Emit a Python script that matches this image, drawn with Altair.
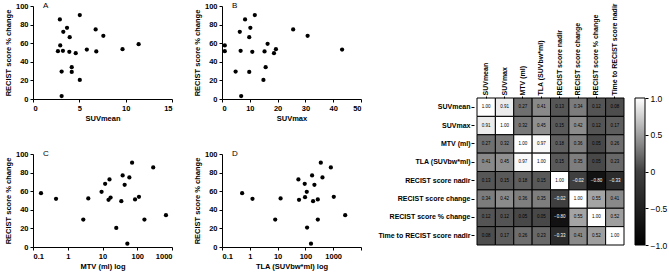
import altair as alt
import pandas as pd

FONT = "Liberation Sans"

# ---- Panel A: SUVmean vs RECIST % change
suv_mean = [2.9, 5.05, 3.67, 3.27, 6.76, 3.96, 7.59, 2.94, 2.69, 3.23, 3.92,
            4.61, 5.81, 6.83, 9.66, 11.4, 3.09, 4.18, 4.18, 5.05, 3.09]
pct_a = [85.6, 90.3, 76.6, 72.3, 74.8, 66.5, 68.0, 57.6, 51.4, 51.8, 50.7,
         49.3, 53.2, 51.1, 53.6, 59.0, 29.5, 34.2, 29.1, 20.5, 3.2]

# ---- Panel B: SUVmax
suv_max = [11.8, 8.3, 10.2, 25.6, 6.4, 30.8, 9.8, 16.4, 1.0, 1.0, 6.7,
           10.9, 15.3, 19.4, 18.7, 43.2, 4.9, 15.7, 9.8, 14.9, 6.9]
pct_b = [90.3, 85.6, 76.6, 74.8, 72.3, 68.0, 66.5, 59.4, 57.6, 51.4, 51.8,
         50.7, 51.1, 53.6, 49.3, 53.2, 29.5, 34.2, 29.1, 20.5, 3.2]

# ---- Panel C: MTV (ml)
mtv = [0.17, 0.46, 3.9, 2.8, 9.4, 11.9, 15.9, 14.9, 17.1, 34.8, 38.0,
       43.4, 59.3, 71.0, 24.9, 51.9, 86.5, 112.0, 161.0, 288.0, 670.0]
pct_c = [57.9, 51.8, 52.2, 29.5, 59.4, 68.0, 72.7, 50.7, 53.2, 49.3, 77.0,
         66.9, 74.8, 90.6, 20.5, 3.6, 51.1, 54.0, 29.5, 85.6, 34.2]

# ---- Panel D: TLA (SUVbw*ml)
tla = [0.53, 1.25, 12.8, 8.2, 56.0, 94.6, 112.0, 97.0, 59.0, 174.0, 211.0,
       189.0, 358.0, 411.0, 824.0, 279.0, 1050.0, 280.0, 115.0, 159.0, 2700.0]
pct_d = [57.9, 51.8, 52.2, 29.5, 72.7, 68.0, 59.4, 53.6, 50.7, 77.0, 66.9,
         49.3, 90.6, 74.8, 85.6, 51.1, 54.0, 29.5, 20.9, 3.6, 34.2]

# ---- Correlation matrix
variables = ["SUVmean", "SUVmax", "MTV (ml)", "TLA (SUVbw*ml)",
             "RECIST score nadir", "RECIST score change",
             "RECIST score % change", "Time to RECIST score nadir"]
corr = [
    [1.00, 0.91, 0.27, 0.41, 0.13, 0.34, 0.12, 0.08],
    [0.91, 1.00, 0.32, 0.45, 0.15, 0.42, 0.12, 0.17],
    [0.27, 0.32, 1.00, 0.97, 0.18, 0.36, 0.05, 0.26],
    [0.41, 0.45, 0.97, 1.00, 0.15, 0.35, 0.05, 0.23],
    [0.13, 0.15, 0.18, 0.15, 1.00, -0.02, -0.80, -0.33],
    [0.34, 0.42, 0.36, 0.35, -0.02, 1.00, 0.55, 0.41],
    [0.12, 0.12, 0.05, 0.05, -0.80, 0.55, 1.00, 0.52],
    [0.08, 0.17, 0.26, 0.23, -0.33, 0.41, 0.52, 1.00],
]
colorbar_ticks = [-1.0, -0.5, 0.0, 0.5, 1.0]

gray_domain = [-1.0, 0.0, 1.0]
gray_range = ["#000000", "#404040", "#ffffff"]

y_ticks = [0, 20, 40, 60, 80, 100]

NUM_EXPR = ("datum.value > 0 && datum.value < 1 ? format(datum.value, '.1f') "
            ": format(datum.value, 'd')")


def scatter(xs, ys, xtitle, letter, xscale, xvalues, w, h):
    df = pd.DataFrame({"x": xs, "y": ys})
    pts = alt.Chart(df).mark_circle(color="black", opacity=1, size=18).encode(
        x=alt.X("x:Q", scale=xscale,
                axis=alt.Axis(values=xvalues, title=xtitle, labelExpr=NUM_EXPR)),
        y=alt.Y("y:Q", scale=alt.Scale(domain=[0, 100], nice=False),
                axis=alt.Axis(values=y_ticks, title="RECIST score % change",
                              labelExpr=NUM_EXPR)),
    )
    lab = alt.Chart(pd.DataFrame({"t": [letter]})).mark_text(
        font=FONT, fontSize=8, align="left", baseline="middle", color="black"
    ).encode(text="t:N", x=alt.value(10), y=alt.value(0))
    return alt.layer(pts, lab).properties(width=w, height=h)


A = scatter(suv_mean, pct_a, "SUVmean", "A",
            alt.Scale(domain=[0, 15], nice=False), [0, 5, 10, 15], 139, 93)
B = scatter(suv_max, pct_b, "SUVmax", "B",
            alt.Scale(domain=[0, 50], nice=False), [0, 10, 20, 30, 40, 50], 139, 93)
C = scatter(mtv, pct_c, "MTV (ml) log", "C",
            alt.Scale(type="log", domain=[0.1, 1000], nice=False),
            [0.1, 1, 10, 100, 1000], 139, 93)
D = scatter(tla, pct_d, "TLA (SUVbw*ml) log", "D",
            alt.Scale(type="log", domain=[0.1, 10000], nice=False),
            [0.1, 1, 10, 100, 1000, 10000], 139, 93)

rows = []
for i, r in enumerate(variables):
    for j, c in enumerate(variables):
        rows.append({"row": r, "col": c, "value": corr[i][j]})
hm_df = pd.DataFrame(rows)

hm_base = alt.Chart(hm_df).encode(
    x=alt.X("col:N", sort=variables,
            scale=alt.Scale(paddingInner=0, paddingOuter=0),
            axis=alt.Axis(orient="top", labelAngle=270, title=None, domain=False,
                          tickSize=2, labelPadding=1, labelFontSize=7,
                          labelFontWeight="bold")),
    y=alt.Y("row:N", sort=variables,
            scale=alt.Scale(paddingInner=0, paddingOuter=0),
            axis=alt.Axis(title=None, domain=False, tickSize=3, labelPadding=1,
                          offset=3, labelFontSize=7, labelFontWeight="bold")),
)
hm_rect = hm_base.mark_rect(stroke="black", strokeWidth=1).encode(
    color=alt.Color("value:Q", scale=alt.Scale(domain=gray_domain, range=gray_range),
                    legend=None)
)
hm_text = hm_base.mark_text(font=FONT, fontSize=4.5).encode(
    text=alt.Text("value:Q", format=".2f"),
    color=alt.condition(alt.datum.value < 0, alt.value("white"), alt.value("black")),
)
heatmap = alt.layer(hm_rect, hm_text).properties(width=147, height=147)

cb_df = pd.DataFrame({"lo": [colorbar_ticks[0]], "hi": [colorbar_ticks[-1]]})
grad = alt.LinearGradient(
    gradient="linear",
    stops=[alt.GradientStop(color=c, offset=(v + 1) / 2) for v, c in zip(gray_domain, gray_range)],
    x1=0, x2=0, y1=1, y2=0,
)
colorbar = alt.Chart(cb_df).mark_rect(color=grad, stroke="black", strokeWidth=1).encode(
    y=alt.Y("lo:Q", scale=alt.Scale(domain=[-1, 1], nice=False),
            axis=alt.Axis(orient="right", values=colorbar_ticks, title=None,
                          domain=False, tickSize=3, labelPadding=2,
                          labelFontSize=8.5, labelFontWeight="normal",
                          labelExpr="datum.value == 0 ? '0' : format(datum.value, '.1f')")),
    y2="hi:Q",
).properties(width=10, height=147)

spacer = alt.Chart(pd.DataFrame({"a": [0]})).mark_point(opacity=0).properties(
    width=147, height=82)

left = alt.concat(A, B, C, D, columns=2, spacing={"row": 55, "column": 50},
                  bounds="flush")
right = alt.vconcat(spacer,
                    alt.hconcat(heatmap, colorbar, spacing=11, bounds="flush"),
                    spacing=10, bounds="flush")

chart = alt.hconcat(left, right, spacing=15).properties(
    padding={"left": 4, "top": 2, "right": 2, "bottom": 2}
).configure(font=FONT).configure_view(stroke=None).configure_axis(
    grid=False, domainColor="black", tickColor="black", labelColor="black",
    titleColor="black", labelFontWeight="bold", titleFontWeight="bold",
    labelFontSize=7.5, titleFontSize=7.5, tickSize=3, domainWidth=1,
    tickWidth=1, labelPadding=2, titlePadding=3, labelFont=FONT, titleFont=FONT
)

chart.save("out.html", embed_options={"renderer": "svg", "actions": False})
